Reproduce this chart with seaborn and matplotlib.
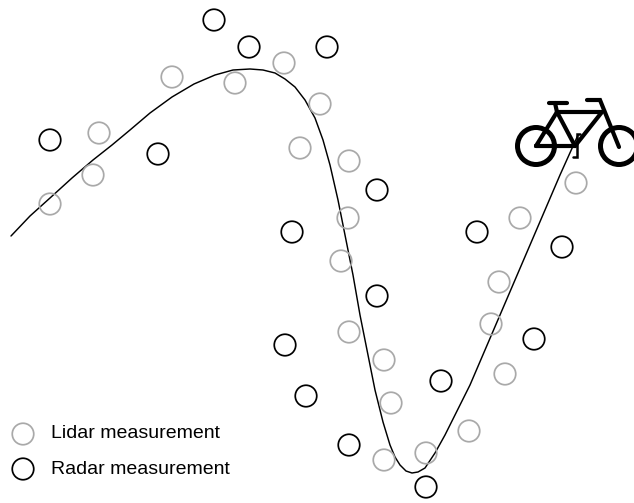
import matplotlib
matplotlib.use("Agg")
import matplotlib.pyplot as plt
import matplotlib.font_manager as fm
import seaborn as sns
import pandas as pd

lidar_x = [50, 93, 99, 172, 235, 284, 320, 300, 349, 348, 341, 349, 384, 391, 384, 426, 469, 505, 491, 499, 520, 576]
lidar_y = [204, 175, 133, 77, 83, 63, 104, 148, 161, 218, 261, 332, 360, 403, 460, 453, 431, 374, 324, 282, 218, 183]
radar_x = [50, 158, 214, 249, 327, 377, 292, 377, 285, 306, 349, 426, 441, 534, 477, 562]
radar_y = [140, 154, 20, 47, 47, 190, 232, 296, 345, 396, 445, 487, 381, 339, 232, 247]
path_x = [11, 30, 50, 72, 93, 112, 130, 150, 172, 194, 215, 233, 250, 263, 275, 285, 295, 305, 315, 323, 330, 338,
          345, 353, 360, 368, 375, 383, 390, 395, 400, 406, 412, 418, 425, 435, 445, 457, 470, 485, 500, 515, 530, 545, 560, 578]
path_y = [236, 216, 198, 178, 160, 145, 130, 113, 97, 84, 75, 70, 69, 70, 73, 79, 87, 100, 118, 140, 165, 200,
          235, 275, 315, 355, 390, 422, 445, 457, 465, 471, 473, 472, 468, 453, 435, 411, 385, 350, 315, 280, 245, 210, 175, 135]
legend_labels = ["Lidar measurement", "Radar measurement"]
legend_x = [23, 23]
legend_y = [434, 469]

wheel_x = [536, 619]
wheel_y = [146, 146]
bike_strokes = [
    [(536, 146), (575, 146), (602, 112), (557, 112), (536, 146)],
    [(557, 112), (575, 146)],
    [(587, 100), (600, 100), (619, 147)],
    [(549, 103), (567, 103)],
    [(555, 103), (557, 112)],
]
crank = [(580, 134), (577, 134), (577, 157), (573, 157)]

GRAY = "#a9a9a9"
sns.set_theme(style="white")
names = {f.name for f in fm.fontManager.ttflist}
font = "Liberation Sans Narrow" if "Liberation Sans Narrow" in names else "Liberation Sans"

fig = plt.figure(figsize=(6.34, 5.03), dpi=100)
ax = fig.add_axes([0, 0, 1, 1])
ax.set_xlim(0, 634)
ax.set_ylim(503, 0)
ax.axis("off")

# bicycle
sns.scatterplot(x=wheel_x, y=wheel_y, ax=ax, s=(37 * 0.72) ** 2, facecolors="none",
                edgecolor="black", linewidth=3.6, legend=False, zorder=3)
for st in bike_strokes:
    xs, ys = zip(*st)
    ax.plot(xs, ys, color="black", lw=3.0, solid_capstyle="round", solid_joinstyle="miter", zorder=3)
xs, ys = zip(*crank)
ax.plot(xs, ys, color="black", lw=1.8, solid_joinstyle="miter", zorder=3)

df = pd.DataFrame({"x": path_x, "y": path_y})
sns.lineplot(data=df, x="x", y="y", sort=False, estimator=None, color="black", lw=1.05, ax=ax, zorder=2)

sz = (21.5 * 0.72) ** 2
sns.scatterplot(x=lidar_x, y=lidar_y, ax=ax, s=sz, facecolors="none", edgecolor=GRAY, linewidth=1.25, legend=False, zorder=4)
sns.scatterplot(x=radar_x, y=radar_y, ax=ax, s=sz, facecolors="none", edgecolor="black", linewidth=1.25, legend=False, zorder=4)
sns.scatterplot(x=legend_x[:1], y=legend_y[:1], ax=ax, s=sz, facecolors="none", edgecolor=GRAY, linewidth=1.25, legend=False, zorder=4)
sns.scatterplot(x=legend_x[1:], y=legend_y[1:], ax=ax, s=sz, facecolors="none", edgecolor="black", linewidth=1.25, legend=False, zorder=4)
ax.set_xlabel("")
ax.set_ylabel("")
for lab, yy in zip(legend_labels, legend_y):
    ax.text(51, yy, lab, fontfamily=font, fontsize=14, color="black", va="center", ha="left")

fig.savefig("out.png", dpi=100)
